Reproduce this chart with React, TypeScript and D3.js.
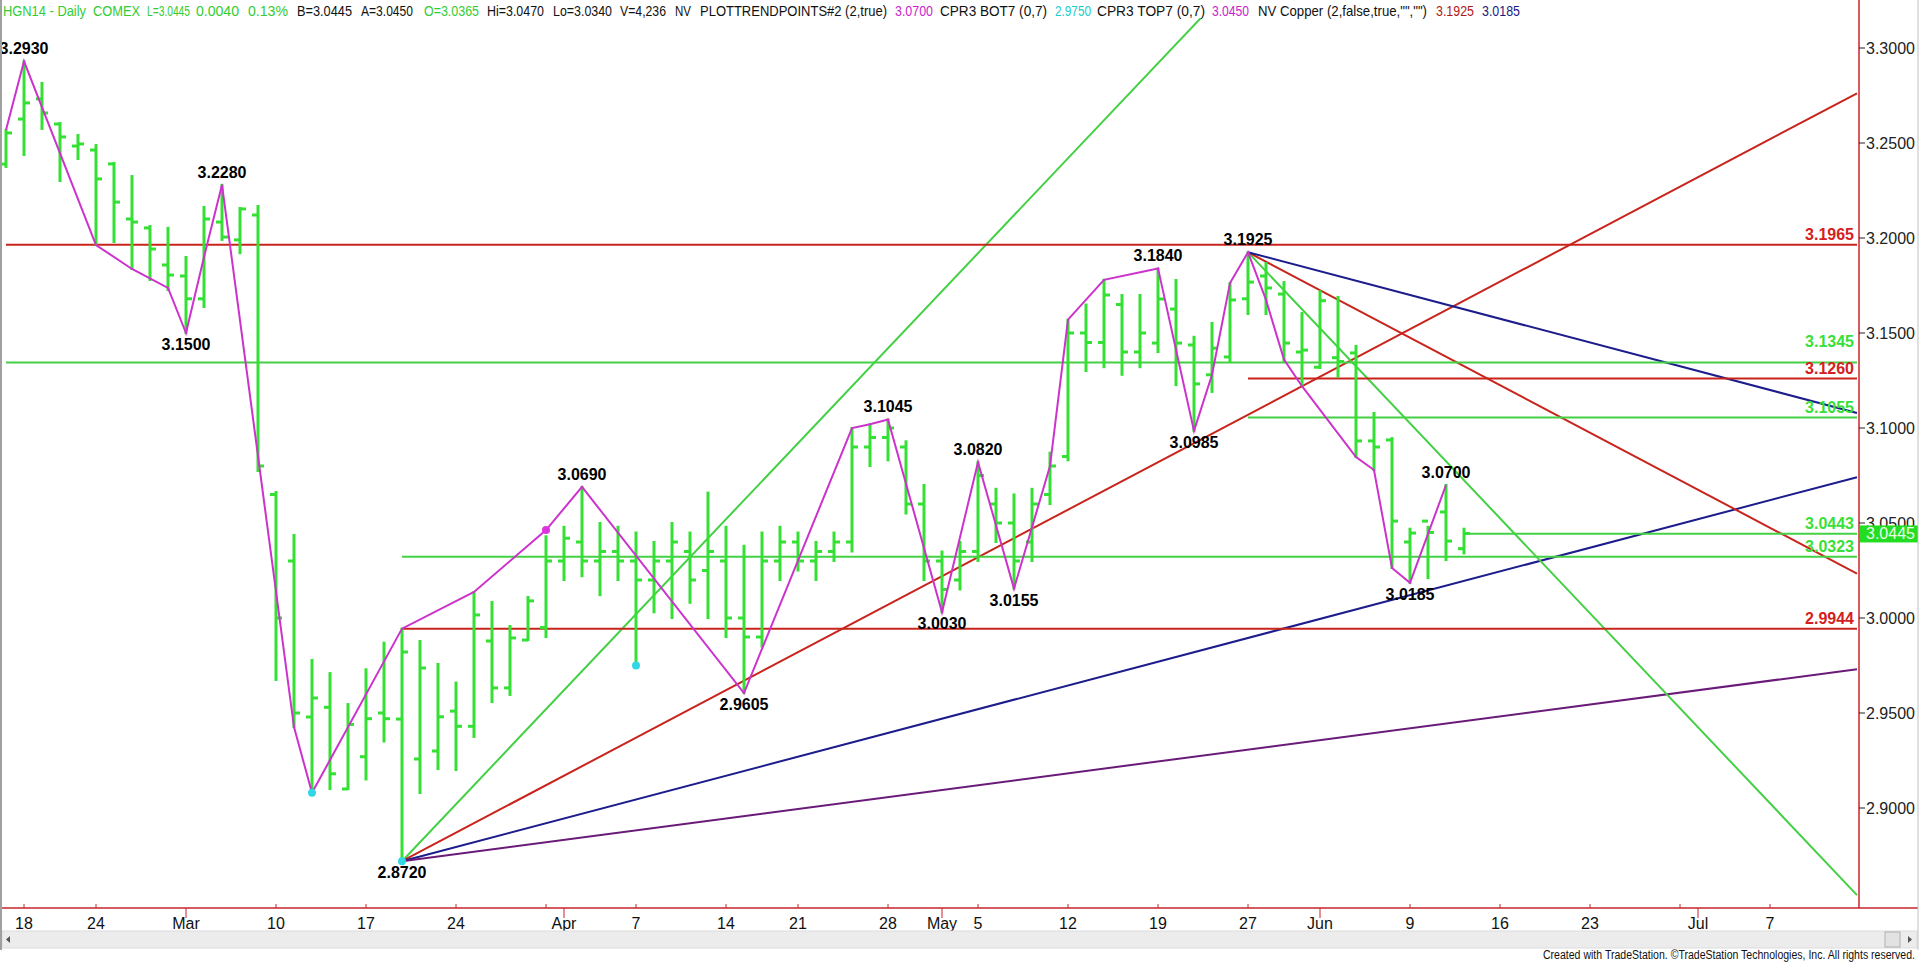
import React from 'react';
import * as d3 from 'd3';

// ---------- DATA ----------
const dates = [
  'Feb 14','Feb 18','Feb 19','Feb 20','Feb 21','Feb 24','Feb 25','Feb 26','Feb 27','Feb 28',
  'Mar 3','Mar 4','Mar 5','Mar 6','Mar 7','Mar 10','Mar 11','Mar 12','Mar 13','Mar 14',
  'Mar 17','Mar 18','Mar 19','Mar 20','Mar 21','Mar 24','Mar 25','Mar 26','Mar 27','Mar 28',
  'Mar 31','Apr 1','Apr 2','Apr 3','Apr 4','Apr 7','Apr 8','Apr 9','Apr 10','Apr 11',
  'Apr 14','Apr 15','Apr 16','Apr 17','Apr 21','Apr 22','Apr 23','Apr 24','Apr 25','Apr 28',
  'Apr 29','Apr 30','May 1','May 2','May 5','May 6','May 7','May 8','May 9','May 12',
  'May 13','May 14','May 15','May 16','May 19','May 20','May 21','May 22','May 23','May 27',
  'May 28','May 29','May 30','Jun 2','Jun 3','Jun 4','Jun 5','Jun 6','Jun 9','Jun 10',
  'Jun 11','Jun 12',
  // future (empty) days on the axis
  'Jun 13','Jun 16','Jun 17','Jun 18','Jun 19','Jun 20','Jun 23','Jun 24','Jun 25','Jun 26',
  'Jun 27','Jun 30','Jul 1','Jul 2','Jul 3','Jul 4','Jul 7','Jul 8','Jul 9','Jul 10','Jul 11'
];

const opens = [
  3.2389,3.2626,3.2732,3.2600,3.2484,3.2463,3.2390,3.2100,3.2053,3.1858,
  3.1800,3.1680,3.2084,3.1990,3.2121,3.0650,3.0300,2.9479,2.9530,2.9100,
  2.9270,2.9500,2.9468,2.9258,2.9300,2.9510,2.9430,2.9879,2.9632,2.9884,
  2.9950,3.0300,3.0400,3.0300,3.0350,3.0300,3.0200,3.0300,3.0350,3.0250,
  3.0300,3.0000,2.9900,3.0300,3.0400,3.0300,3.0350,3.0400,3.0900,3.0950,
  3.0900,3.0600,3.0300,3.0200,3.0350,3.0600,3.0500,3.0400,3.0650,3.0850,
  3.1500,3.1450,3.1650,3.1400,3.1447,3.1626,3.1437,3.1280,3.1374,3.1680,
  3.1800,3.1705,3.1400,3.1320,3.1370,3.1395,3.0932,3.0937,3.0400,3.0510,
  3.0558,3.0365
];
const highs = [
  3.2568,3.2930,3.2816,3.2605,3.2542,3.2489,3.2395,3.2326,3.2063,3.2053,
  3.1900,3.2163,3.2280,3.2158,3.2168,3.0663,3.0437,2.9779,2.9710,2.9547,
  2.9730,2.9870,2.9944,2.9879,2.9758,2.9660,3.0137,3.0084,2.9958,3.0111,
  3.0430,3.0480,3.0690,3.0500,3.0480,3.0450,3.0400,3.0500,3.0450,3.0660,
  3.0480,3.0380,3.0450,3.0480,3.0450,3.0400,3.0450,3.1000,3.1020,3.1045,
  3.0930,3.0700,3.0350,3.0400,3.0820,3.0680,3.0650,3.0680,3.0870,3.1570,
  3.1650,3.1780,3.1700,3.1700,3.1840,3.1779,3.1480,3.1553,3.1763,3.1925,
  3.1868,3.1768,3.1605,3.1720,3.1690,3.1432,3.1079,3.0947,3.0470,3.0480,
  3.0700,3.0470
];
const lows = [
  3.2374,3.2437,3.2574,3.2300,3.2416,3.1968,3.1979,3.1837,3.1779,3.1726,
  3.1500,3.1637,3.1990,3.1920,3.0774,2.9674,2.9426,2.9080,2.9100,2.9100,
  2.9150,2.9350,2.8720,2.9079,2.9205,2.9200,2.9374,2.9558,2.9595,2.9884,
  2.9900,3.0200,3.0220,3.0120,3.0200,2.9750,3.0030,3.0000,3.0080,3.0000,
  2.9900,2.9605,2.9850,3.0200,3.0250,3.0200,3.0300,3.0350,3.0800,3.0830,
  3.0550,3.0200,3.0030,3.0150,3.0300,3.0400,3.0155,3.0300,3.0600,3.0830,
  3.1300,3.1320,3.1280,3.1320,3.1400,3.1226,3.0985,3.1190,3.1347,3.1600,
  3.1600,3.1347,3.1226,3.1316,3.1270,3.0847,3.0779,3.0263,3.0185,3.0210,
  3.0305,3.0340
];
const closes = [
  3.2553,3.2711,3.2658,3.2532,3.2495,3.2311,3.2189,3.2084,3.1942,3.1805,
  3.1680,3.2100,3.2005,3.2153,3.0800,3.0000,2.9500,2.9579,2.9180,2.9440,
  2.9470,2.9470,2.9821,2.9737,2.9480,2.9430,3.0016,2.9632,2.9895,3.0090,
  3.0300,3.0420,3.0300,3.0350,3.0300,3.0200,3.0300,3.0400,3.0200,3.0350,
  3.0000,2.9900,3.0300,3.0400,3.0300,3.0350,3.0400,3.0900,3.0950,3.1000,
  3.0600,3.0300,3.0150,3.0350,3.0750,3.0500,3.0300,3.0600,3.0800,3.1500,
  3.1450,3.1700,3.1400,3.1500,3.1679,3.1447,3.1232,3.1420,3.1674,3.1768,
  3.1737,3.1447,3.1410,3.1670,3.1350,3.0932,3.0900,3.0510,3.0447,3.0450,
  3.0405,3.0445
];

// zig-zag trend points (bar index, price)
const zigIdx = [0,1,5,7,9,10,11,12,16,17,22,26,30,32,41,47,48,49,52,54,56,58,59,61,64,66,67,68,69,70,71,72,75,76,77,78,80];
const zigVal = [3.2568,3.2930,3.1963,3.1837,3.1737,3.1500,3.1900,3.2280,2.9426,2.9080,2.9944,3.0137,3.0463,3.0690,2.9605,3.1000,3.1020,3.1045,3.0030,3.0820,3.0155,3.0800,3.1570,3.1780,3.1840,3.0985,3.1280,3.1763,3.1925,3.1674,3.1360,3.1220,3.0847,3.0779,3.0263,3.0185,3.0700];

// pivot labels
const pivotText = ['3.2930','3.2280','3.1500','2.8720','3.0690','2.9605','3.1045','3.0030','3.0820','3.0155','3.1840','3.1925','3.0985','3.0185','3.0700'];
const pivotIdx = [1,12,10,22,32,41,49,52,54,56,64,69,66,78,80];
const pivotVal = [3.2930,3.2280,3.1500,2.8720,3.0690,2.9605,3.1045,3.0030,3.0820,3.0155,3.1840,3.1925,3.0985,3.0185,3.0700];
const pivotAbove = [true,true,false,false,true,false,true,false,true,false,true,true,false,false,true];

// CPR dots
const cyanDotIdx = [17,22,35];
const cyanDotVal = [2.9080,2.8720,2.9750];
const magentaDotIdx = [30];
const magentaDotVal = [3.0463];

// horizontal levels
const levelVal = [3.1965,3.1345,3.1260,3.1055,3.0443,3.0323,2.9944];
const levelFrom = [0,0,69,69,81,22,22];
const levelKind = ['red','green','red','green','green','green','red'];

// fan lines
const fanFromIdx = [22,22,22,22,69,69,69];
const fanFromVal = [2.872,2.872,2.872,2.872,3.1925,3.1925,3.1925];
const fanSlope = [0.01,0.005,0.0025,0.00125,-0.01,-0.005,-0.0025];
const fanKind = ['green','red','navy','purple','green','red','navy'];

// axes
const yTicks = [3.3,3.25,3.2,3.15,3.1,3.05,3.0,2.95,2.9];
const xTickIdx = [1,5,10,15,20,25,30,31,35,40,44,49,52,54,59,64,69,73,78,83,88,93,94,98];
const xTickLabel = ['18','24','Mar','10','17','24','','Apr','7','14','21','28','May','5','12','19','27','Jun','9','16','23','','Jul','7'];
const xTickMonth = [false,false,true,false,false,false,false,true,false,false,false,false,true,false,false,false,false,true,false,false,false,false,true,false];

const lastPrice = 3.0445;

const header = [
  { t: 'HGN14 - Daily', c: 'g', x: 3, w: 83 },
  { t: 'COMEX', c: 'g', x: 93, w: 47 },
  { t: 'L=3.0445', c: 'g', x: 147, w: 43 },
  { t: '0.0040', c: 'g', x: 196, w: 43 },
  { t: '0.13%', c: 'g', x: 248, w: 40 },
  { t: 'B=3.0445', c: 'k', x: 297, w: 55 },
  { t: 'A=3.0450', c: 'k', x: 361, w: 52 },
  { t: 'O=3.0365', c: 'g', x: 424, w: 55 },
  { t: 'Hi=3.0470', c: 'k', x: 487, w: 57 },
  { t: 'Lo=3.0340', c: 'k', x: 553, w: 59 },
  { t: 'V=4,236', c: 'k', x: 620, w: 46 },
  { t: 'NV', c: 'k', x: 675, w: 16 },
  { t: 'PLOTTRENDPOINTS#2 (2,true)', c: 'k', x: 700, w: 187 },
  { t: '3.0700', c: 'm', x: 895, w: 38 },
  { t: 'CPR3 BOT7 (0,7)', c: 'k', x: 940, w: 107 },
  { t: '2.9750', c: 'c', x: 1055, w: 36 },
  { t: 'CPR3 TOP7 (0,7)', c: 'k', x: 1097, w: 108 },
  { t: '3.0450', c: 'm', x: 1212, w: 37 },
  { t: 'NV Copper (2,false,true,"","")', c: 'k', x: 1258, w: 169 },
  { t: '3.1925', c: 'r', x: 1436, w: 38 },
  { t: '3.0185', c: 'n', x: 1482, w: 38 },
];

const COLORS: Record<string, string> = {
  bar: '#33e033',
  zig: '#cc33cc',
  red: '#c8241c',
  green: '#44d044',
  navy: '#1c1c8c',
  purple: '#6a1a78',
  cyan: '#33d6e6',
  g: '#33cc33', k: '#111111', m: '#cc22cc', c: '#22cccc', r: '#b01818', n: '#1a1a80',
};

export default function App() {
  const W = 1920, H = 964;
  const axisX = 1859, plotTop = 18, plotBottom = 908;
  const x = d3.scaleLinear().domain([0, 100]).range([6, 1806]);
  const y = d3.scaleLinear().domain([2.9, 3.3]).range([808, 48]);
  const font = '"Liberation Sans", Arial, sans-serif';
  const narrow = '"Liberation Sans Narrow", "Arial Narrow", "Liberation Sans", Arial, sans-serif';
  const nBars = closes.length;
  const xEnd = x.invert(axisX - 2);

  const zigLine = d3.line<number>().x((d, i) => x(zigIdx[i])).y((d) => y(d));

  return (
    <div style={{ position: 'absolute', left: 0, top: 0, width: W, height: H, background: '#fff' }}>
      <svg width={W} height={H} style={{ display: 'block' }}>
        <defs>
          <clipPath id="plot">
            <rect x={0} y={plotTop} width={axisX} height={plotBottom - plotTop} />
          </clipPath>
        </defs>
        <rect x={0} y={0} width={W} height={H} fill="#fff" />

        <g clipPath="url(#plot)">
          {/* fan lines */}
          {fanSlope.map((s, k) => (
            <line key={'fan' + k}
              x1={x(fanFromIdx[k])} y1={y(fanFromVal[k])}
              x2={x(xEnd)} y2={y(fanFromVal[k] + s * (xEnd - fanFromIdx[k]))}
              stroke={COLORS[fanKind[k]]} strokeWidth={2} />
          ))}
          {/* horizontal levels */}
          {levelVal.map((v, k) => (
            <line key={'lv' + k} x1={x(levelFrom[k])} x2={axisX - 2}
              y1={y(v)} y2={y(v)} stroke={COLORS[levelKind[k]]} strokeWidth={2} />
          ))}
          {/* OHLC bars */}
          {d3.range(nBars).map((i) => {
            const cx = x(i);
            return (
              <g key={'b' + i} stroke={COLORS.bar} strokeWidth={3}>
                <line x1={cx} x2={cx} y1={y(highs[i]) - 1} y2={y(lows[i]) + 1} />
                <line x1={cx - 6} x2={cx} y1={y(opens[i])} y2={y(opens[i])} />
                <line x1={cx} x2={cx + 6} y1={y(closes[i])} y2={y(closes[i])} />
              </g>
            );
          })}
          {/* zig-zag */}
          <path d={zigLine(zigVal) || ''} fill="none" stroke={COLORS.zig} strokeWidth={2} />
          {cyanDotIdx.map((d, k) => (
            <circle key={'cd' + k} cx={x(d)} cy={y(cyanDotVal[k])} r={4} fill={COLORS.cyan} />
          ))}
          {magentaDotIdx.map((d, k) => (
            <circle key={'md' + k} cx={x(d)} cy={y(magentaDotVal[k])} r={4} fill="#dd33dd" />
          ))}
          {/* pivot labels */}
          {pivotText.map((t, k) => (
            <text key={'pv' + k} x={x(pivotIdx[k])} y={y(pivotVal[k]) + (pivotAbove[k] ? -7 : 17)}
              textAnchor="middle" fontFamily={font} fontWeight="bold" fontSize={16} fill="#000">{t}</text>
          ))}
        </g>

        {/* level labels */}
        {levelVal.map((v, k) => (
          <text key={'ll' + k} x={1854} y={y(v) - (v === 3.1345 ? 15 : 5)} textAnchor="end"
            fontFamily={font} fontWeight="bold" fontSize={16}
            fill={levelKind[k] === 'red' ? '#d42020' : '#38e038'}>{v.toFixed(4)}</text>
        ))}

        {/* right axis */}
        <line x1={axisX} x2={axisX} y1={0} y2={plotBottom} stroke="#c8242c" strokeWidth={1.5} />
        {yTicks.map((v) => (
          <g key={'yt' + v}>
            <line x1={axisX} x2={axisX + 6} y1={y(v)} y2={y(v)} stroke="#222" strokeWidth={1} />
            <text x={axisX + 7} y={y(v) + 6} fontFamily={font} fontSize={16} fill="#222">{v.toFixed(4)}</text>
          </g>
        ))}
        <rect x={axisX + 1} y={y(lastPrice) - 8} width={58} height={17} fill="#22dd22" />
        <text x={axisX + 7} y={y(lastPrice) + 6} fontFamily={font} fontSize={16} fill="#e8ffe8">{lastPrice.toFixed(4)}</text>

        {/* bottom axis */}
        <line x1={0} x2={1918} y1={plotBottom} y2={plotBottom} stroke="#c8242c" strokeWidth={1.5} />
        {xTickIdx.map((d, k) => (
          <g key={'xt' + k}>
            <line x1={x(d)} x2={x(d)} y1={xTickMonth[k] ? plotBottom : plotBottom - 4}
              y2={xTickMonth[k] ? plotBottom + 10 : plotBottom} stroke="#c8242c" strokeWidth={1} />
            {xTickLabel[k] && (
              <text x={x(d)} y={929} textAnchor="middle" fontFamily={narrow} fontSize={16} fill="#111">{xTickLabel[k]}</text>
            )}
          </g>
        ))}

        {/* scrollbar */}
        <rect x={2} y={931} width={1915} height={17} fill="#ececec" stroke="#dcdcdc" />
        <path d="M10,936 L6,939.5 L10,943 Z" fill="#555" />
        <rect x={1885} y={932} width={15} height={15} fill="#e2e2e2" stroke="#b0b0b0" />
        <path d="M1908,936 L1912,939.5 L1908,943 Z" fill="#555" />
        <line x1={1} x2={1} y1={0} y2={950} stroke="#a0a0a0" strokeWidth={2} />
        <line x1={1918} x2={1918} y1={0} y2={950} stroke="#c0c0c0" strokeWidth={1} />

        {/* header */}
        {header.map((h, k) => (
          <text key={'h' + k} x={h.x} y={16} fontFamily={narrow} fontSize={15}
            textLength={h.w} lengthAdjust="spacingAndGlyphs" fill={COLORS[h.c]}>{h.t}</text>
        ))}

        <text x={1915} y={959} textAnchor="end" fontFamily={narrow} fontSize={12} fill="#111"
          textLength={372} lengthAdjust="spacingAndGlyphs">Created with TradeStation. ©TradeStation Technologies, Inc. All rights reserved.</text>
      </svg>
    </div>
  );
}
